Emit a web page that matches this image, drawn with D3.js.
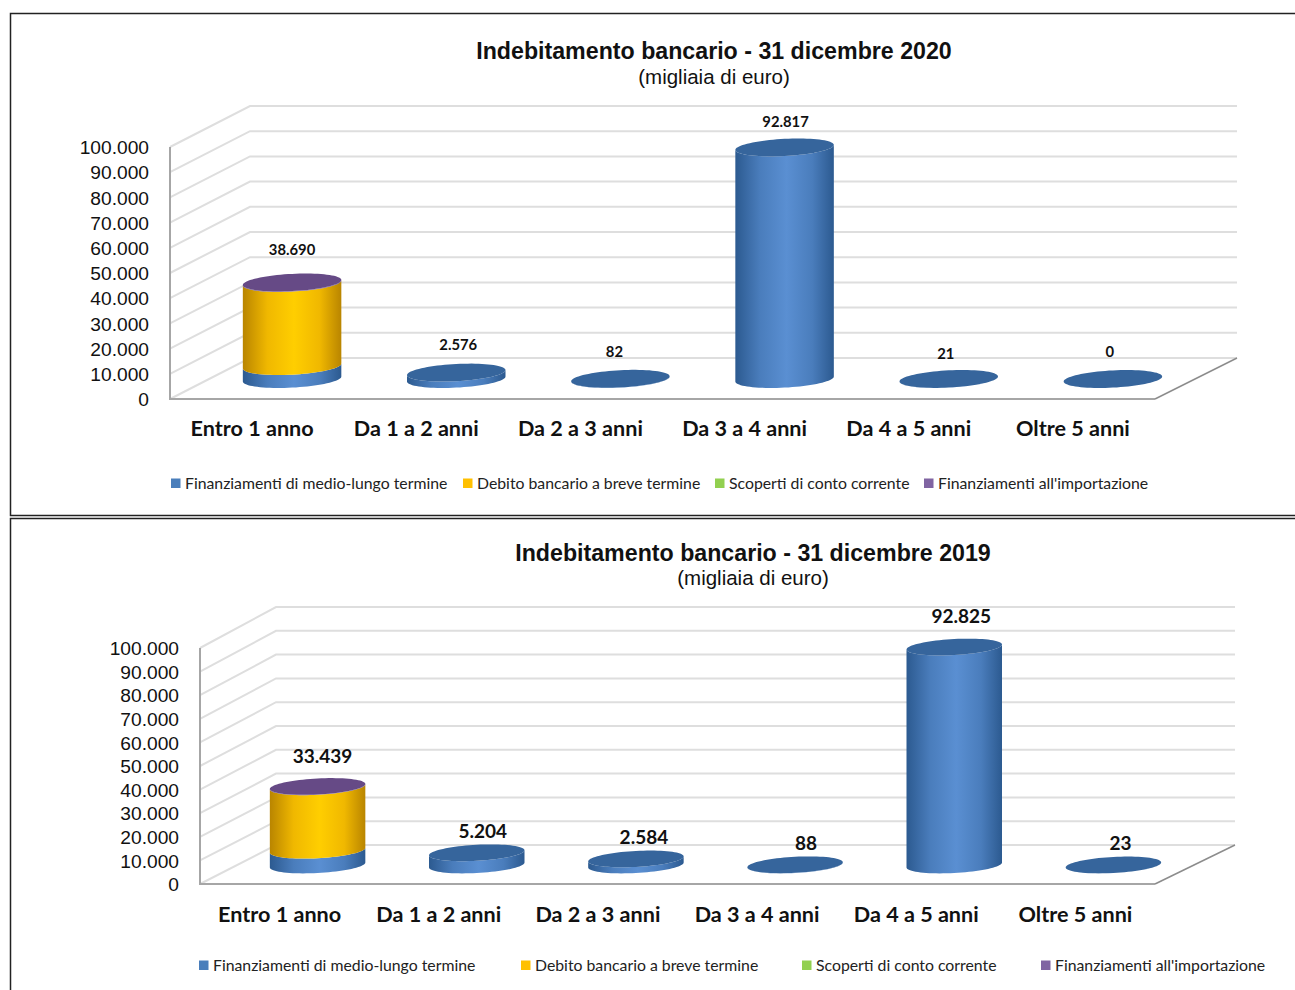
<!DOCTYPE html>
<html>
<head>
<meta charset="utf-8">
<script src="https://cdn.jsdelivr.net/npm/d3@7"></script>
<style>
  html, body { margin: 0; padding: 0; background: #fff; overflow: hidden; }
  text { fill: #111; }
  .title { font: bold 23.2px "Liberation Sans", sans-serif; text-anchor: middle; }
  .subtitle { font: 20.5px "Liberation Sans", sans-serif; text-anchor: middle; }
  .yaxis text { font: 19.2px "Liberation Sans", sans-serif; }
  .xaxis text { font: bold 21.6px Lato, sans-serif; }
  .legend-label { font: 15.8px Lato, sans-serif; fill: #222; }
  .value { font-family: Lato, sans-serif; font-weight: bold; text-anchor: middle; }
</style>
</head>
<body>
<svg id="chart" width="1295" height="990"></svg>
<script>
// values in thousands of euro
const categories2020 = ['Entro 1 anno', 'Da 1 a 2 anni', 'Da 2 a 3 anni', 'Da 3 a 4 anni', 'Da 4 a 5 anni', 'Oltre 5 anni'];
const medio2020 = [5190, 2576, 82, 92817, 21, 0];
const breve2020 = [33300, 0, 0, 0, 0, 0];
const scoperti2020 = [0, 0, 0, 0, 0, 0];
const importazione2020 = [200, 0, 0, 0, 0, 0];

const categories2019 = ['Entro 1 anno', 'Da 1 a 2 anni', 'Da 2 a 3 anni', 'Da 3 a 4 anni', 'Da 4 a 5 anni', 'Oltre 5 anni'];
const medio2019 = [6300, 5204, 2584, 88, 92825, 23];
const breve2019 = [27000, 0, 0, 0, 0, 0];
const scoperti2019 = [0, 0, 0, 0, 0, 0];
const importazione2019 = [139, 0, 0, 0, 0, 0];

const seriesNames = ['Finanziamenti di medio-lungo termine', 'Debito bancario a breve termine', 'Scoperti di conto corrente', "Finanziamenti all'importazione"];
const yTicks = [0, 10000, 20000, 30000, 40000, 50000, 60000, 70000, 80000, 90000, 100000];

const seriesStyle = [
    { key: 'blue', edge: '#2c5a90', soft: '#4a7dbc', mid: '#5a8fd2', top: '#36659c', swatch: '#4a7ebb' },
    { key: 'yellow', edge: '#b98500', soft: '#f0b800', mid: '#ffce00', top: '#e0a800', swatch: '#ffc000' },
    { key: 'green', edge: '#6f9e38', soft: '#95cc54', mid: '#a5dc62', top: '#86bb48', swatch: '#92d050' },
    { key: 'purple', edge: '#553c78', soft: '#745998', mid: '#7f62a6', top: '#664a86', swatch: '#8064a2' }
];

const itFormat = d3.formatLocale({ decimal: ',', thousands: '.', grouping: [3], currency: ['', ' €'] }).format(',');
const svg = d3.select('#chart');

// gradients shared by both charts
const defs = svg.append('defs');
seriesStyle.forEach(s => {
    const grad = defs.append('linearGradient').attr('id', 'grad-' + s.key);
    grad.append('stop').attr('offset', '0%').attr('stop-color', s.edge);
    grad.append('stop').attr('offset', '25%').attr('stop-color', s.soft);
    grad.append('stop').attr('offset', '52%').attr('stop-color', s.mid);
    grad.append('stop').attr('offset', '78%').attr('stop-color', s.soft);
    grad.append('stop').attr('offset', '100%').attr('stop-color', s.edge);
});

// panel frames, open on the right side like the picture
svg.append('path')
    .attr('d', 'M1295,13.5H10.5V515.5H1295M1295,518.5H10.5V990')
    .attr('fill', 'none')
    .attr('stroke', '#222')
    .attr('stroke-width', 1.5);

drawPanel({
    categories: categories2020,
    series: [medio2020, breve2020, scoperti2020, importazione2020],
    title: 'Indebitamento bancario - 31 dicembre 2020',
    titleX: 714, titleY: 59, subY: 84,
    left: 170, right: 1155, backLeft: 250, backRight: 1237,
    y0: 399, y100: 147, backY0: 358, backY100: 106,
    ry: 8.6, shear: 2.5, barFactor: 0.99, baseNudge: 0.5,
    labelSize: 14.8, xLabelPad: 22,
    labelNudge: [[0, -27], [2, -23], [-6, -22], [1, -20], [-3, -20], [-3, -22]],
    legendY: 483, legendX: [171, 463, 715, 924]
});

drawPanel({
    categories: categories2019,
    series: [medio2019, breve2019, scoperti2019, importazione2019],
    title: 'Indebitamento bancario - 31 dicembre 2019',
    titleX: 753, titleY: 561, subY: 585,
    left: 200, right: 1155, backLeft: 276, backRight: 1235,
    y0: 884, y100: 648, backY0: 845, backY100: 607,
    ry: 8, shear: 2.5, barFactor: 0.995, baseNudge: 0.5,
    labelSize: 19, xLabelPad: 23,
    labelNudge: [[5, -23], [6, -15], [8, -15], [11, -15], [7, -24], [7, -15]],
    legendY: 965, legendX: [199, 521, 802, 1041]
});

function drawPanel(cfg) {
    const g = svg.append('g');

    g.append('text').attr('class', 'title').attr('x', cfg.titleX).attr('y', cfg.titleY).text(cfg.title);
    g.append('text').attr('class', 'subtitle').attr('x', cfg.titleX).attr('y', cfg.subY).text('(migliaia di euro)');

    const yFront = d3.scaleLinear().domain([0, 100000]).range([cfg.y0, cfg.y100]);
    const yBack = d3.scaleLinear().domain([0, 100000]).range([cfg.backY0, cfg.backY100]);
    const xFront = d3.scaleBand().domain(cfg.categories).range([cfg.left, cfg.right]);

    // the bars stand halfway into the floor
    const offsetX = (cfg.backLeft - cfg.left) / 2;
    const offsetY = (cfg.y0 - cfg.backY0) / 2;
    const xBars = d3.scaleBand().domain(cfg.categories).range([cfg.left + offsetX, cfg.right + offsetX]);
    const rx = xBars.bandwidth() * 0.3;
    const pxPerUnit = (cfg.y0 - cfg.y100) / 100000 * cfg.barFactor;

    // walls
    const grid = g.append('g').attr('fill', 'none').attr('stroke', '#dedede').attr('stroke-width', 2);
    yTicks.forEach(t => {
        grid.append('path').attr('d', `M${cfg.left},${yFront(t)}L${cfg.backLeft},${yBack(t)}H${cfg.backRight}`);
    });

    // floor edge and axis line
    g.append('path')
        .attr('d', `M${cfg.left},${yFront(100000)}V${cfg.y0}H${cfg.right}`)
        .attr('fill', 'none').attr('stroke', '#a6a6a6').attr('stroke-width', 2);
    g.append('line')
        .attr('x1', cfg.right).attr('y1', cfg.y0)
        .attr('x2', cfg.backRight).attr('y2', cfg.backY0)
        .attr('stroke', '#8c8c8c').attr('stroke-width', 1.5);

    const yAxis = d3.axisLeft(yFront).tickValues(yTicks).tickSize(0).tickPadding(21).tickFormat(itFormat);
    g.append('g').attr('class', 'yaxis').attr('transform', `translate(${cfg.left},0.5)`).call(yAxis)
        .call(a => a.select('.domain').remove());

    const xAxis = d3.axisBottom(xFront).tickSize(0).tickPadding(cfg.xLabelPad);
    g.append('g').attr('class', 'xaxis').attr('transform', `translate(0,${cfg.y0})`).call(xAxis)
        .call(a => a.select('.domain').remove());

    // stack the four series per category
    const rows = cfg.categories.map((c, i) => {
        const row = { category: c };
        cfg.series.forEach((s, j) => { row['s' + j] = s[i]; });
        return row;
    });
    const stacked = d3.stack().keys(cfg.series.map((s, j) => 's' + j))(rows);

    const ellipsePoint = (cx, cy, t) => [
        cx + rx * Math.cos(t),
        cy + cfg.ry * Math.sin(t) - cfg.shear * Math.cos(t)
    ];
    const arcTs = d3.range(0, 41).map(i => i / 40 * Math.PI);
    const line = d3.line();

    cfg.categories.forEach((c, i) => {
        const cx = xBars(c) + xBars.bandwidth() / 2;
        const base = cfg.y0 - offsetY + cfg.baseNudge;
        let topValue = 0;
        let topStyle = seriesStyle[0];

        stacked.forEach((layer, j) => {
            const [v0, v1] = layer[i];
            if (v1 <= v0) return;
            const yLow = base - v0 * pxPerUnit;
            const yHigh = base - v1 * pxPerUnit;
            const lower = arcTs.map(t => ellipsePoint(cx, yLow, t));
            const upper = arcTs.map(t => ellipsePoint(cx, yHigh, t)).reverse();
            g.append('path')
                .attr('d', line(lower.concat(upper)) + 'Z')
                .attr('fill', `url(#grad-${seriesStyle[j].key})`);
            topValue = v1;
            topStyle = seriesStyle[j];
        });

        const topY = base - topValue * pxPerUnit;
        const face = d3.range(0, 80).map(k => ellipsePoint(cx, topY, k / 80 * 2 * Math.PI));
        g.append('path').attr('d', line(face) + 'Z').attr('fill', topStyle.top);

        g.append('text')
            .attr('class', 'value')
            .attr('x', cx + cfg.labelNudge[i][0])
            .attr('y', topY + cfg.labelNudge[i][1])
            .style('font-size', cfg.labelSize + 'px')
            .text(itFormat(topValue));
    });

    // legend
    seriesNames.forEach((name, j) => {
        const x = cfg.legendX[j];
        g.append('rect')
            .attr('x', x).attr('y', cfg.legendY - 4.5)
            .attr('width', 9.5).attr('height', 9.5)
            .attr('fill', seriesStyle[j].swatch);
        g.append('text')
            .attr('class', 'legend-label')
            .attr('x', x + 14)
            .attr('y', cfg.legendY + 5.5)
            .text(name);
    });
}
</script>
</body>
</html>
